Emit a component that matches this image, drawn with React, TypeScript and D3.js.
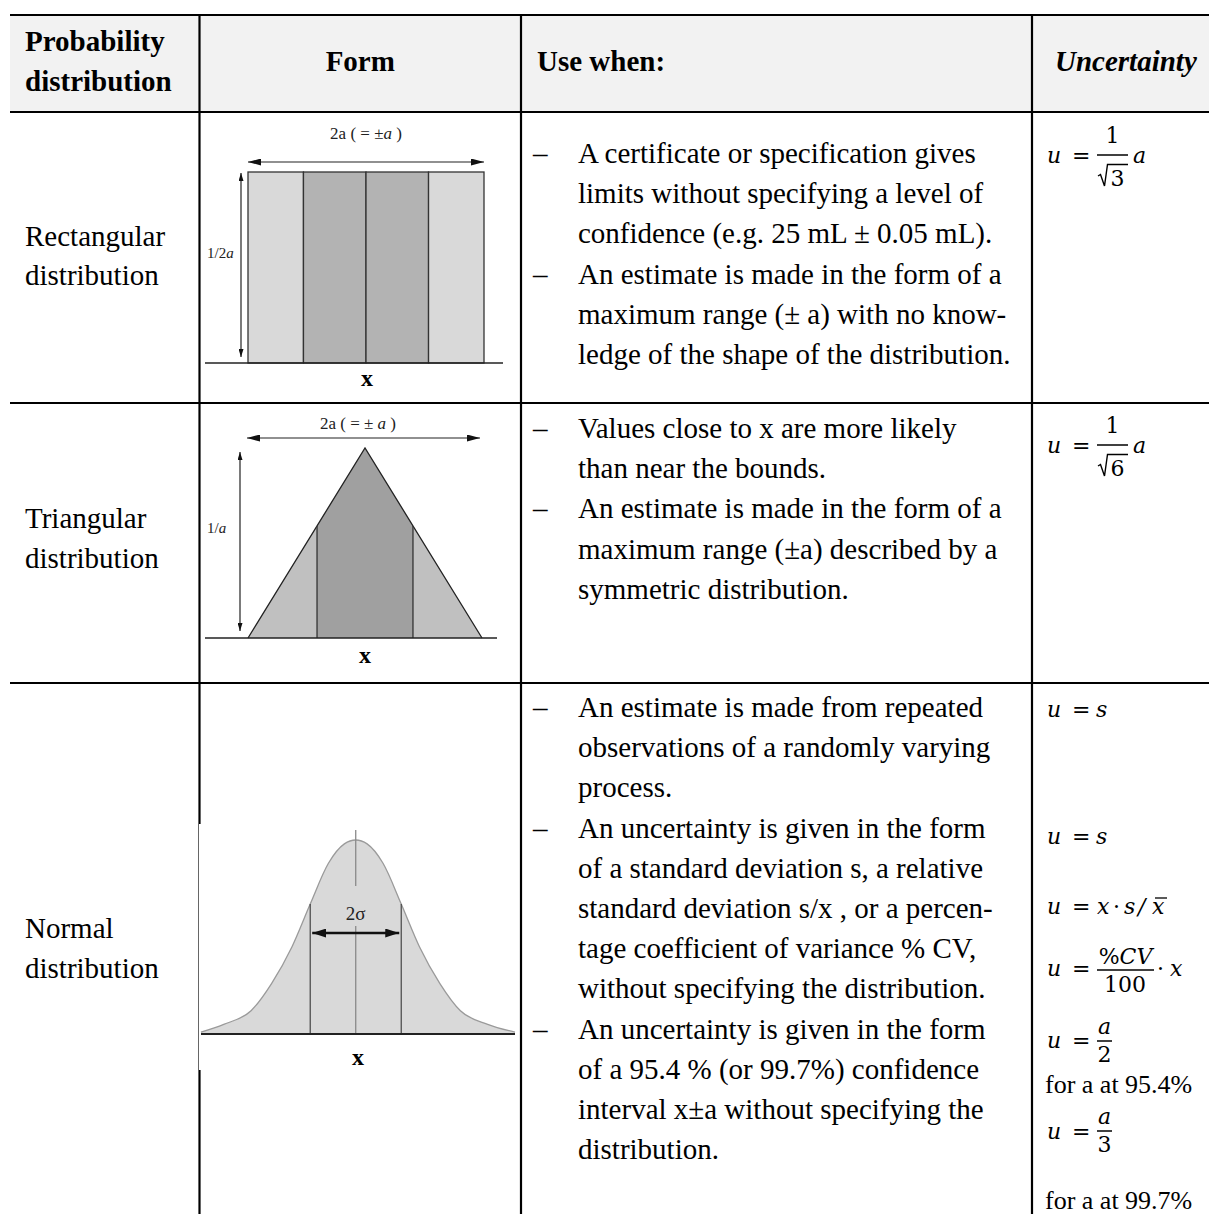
import React from 'react';
import * as d3 from 'd3';

// ---------- data ----------
const HEADER_COL1 = ['Probability', 'distribution'];
const HEADER_FORM = 'Form';
const HEADER_USE = 'Use when:';
const HEADER_UNC = 'Uncertainty';

const DIST_NAMES = [
  ['Rectangular', 'distribution'],
  ['Triangular', 'distribution'],
  ['Normal', 'distribution'],
];

const USE_RECT = [
  ['A certificate or specification gives', 'limits without specifying a level of', 'confidence (e.g. 25 mL ± 0.05 mL).'],
  ['An estimate is made in the form of a', 'maximum range (± a) with no know-', 'ledge of the shape of the distribution.'],
];
const USE_TRI = [
  ['Values close to x are more likely', 'than near the bounds.'],
  ['An estimate is made in the form of a', 'maximum range (±a) described by a', 'symmetric distribution.'],
];
const USE_NORM = [
  ['An estimate is made from repeated', 'observations of a randomly varying', 'process.'],
  ['An uncertainty is given in the form', 'of a standard deviation s, a relative', 'standard deviation s/x , or a percen-', 'tage coefficient of variance % CV,', 'without specifying the distribution.'],
  ['An uncertainty is given in the form', 'of a 95.4 % (or 99.7%) confidence', 'interval x±a without specifying the', 'distribution.'],
];

// rectangular distribution: band edges (units of a) and shades
const RECT_EDGES = [-1, -0.53, 0, 0.53, 1];
const RECT_FILLS = ['#d9d9d9', '#b3b3b3', '#b3b3b3', '#d9d9d9'];
// triangular distribution: band edges (units of a) and shades
const TRI_EDGES = [-1, -0.41, 0.41, 1];
const TRI_FILLS = ['#c0c0c0', '#a0a0a0', '#c0c0c0'];
// normal curve (x in sigma units, y relative height)
const NORM_X = [-3.4, -2.9, -2.3, -1.85, -1.4, -1.0, -0.6, -0.25, 0, 0.25, 0.6, 1.0, 1.4, 1.85, 2.3, 2.9, 3.5];
const NORM_Y = [0.01, 0.05, 0.12, 0.26, 0.45, 0.67, 0.88, 0.98, 1, 0.98, 0.88, 0.67, 0.45, 0.26, 0.12, 0.05, 0.01];
const NORM_SIGMA_LINES = [-1, 1];

const FOR_A = ['for a at 95.4%', 'for a at 99.7%'];

// ---------- layout ----------
const W = 1209;
const H = 1214;
const X0 = 10;
const COLS = [199.5, 521, 1032];
const ROWS = [15, 112, 403, 683];
const SERIF = "'Liberation Serif', 'Times New Roman', serif";
const MATH = "'DejaVu Serif', serif";
const FS = 29;
const LH = 40.2;

function Bullets({ groups, y0 }: { groups: string[][]; y0: number }) {
  const out: any[] = [];
  let k = 0;
  groups.forEach((g, gi) => {
    g.forEach((line, li) => {
      const y = y0 + k * LH;
      if (li === 0) {
        out.push(<text key={`d${gi}`} x={533} y={y} fontSize={FS}>–</text>);
      }
      out.push(<text key={`l${gi}-${li}`} x={578} y={y} fontSize={FS}>{line}</text>);
      k++;
    });
  });
  return <g fontFamily={SERIF}>{out}</g>;
}

function arrowMarker(id: string, len: number, wid: number) {
  return (
    <marker id={id} markerUnits="userSpaceOnUse" markerWidth={len} markerHeight={wid}
      refX={len} refY={wid / 2} orient="auto-start-reverse" viewBox={`0 0 ${len} ${wid}`}>
      <path d={`M0,0 L${len},${wid / 2} L0,${wid} Z`} fill="#111" />
    </marker>
  );
}

function RectDiagram() {
  const x = d3.scaleLinear().domain([-1, 1]).range([248, 484]);
  const y = d3.scaleLinear().domain([0, 1]).range([363, 172]);
  const bands = d3.pairs(RECT_EDGES);
  return (
    <g>
      {bands.map(([a, b], i) => (
        <rect key={i} x={x(a)} y={y(1)} width={x(b) - x(a)} height={y(0) - y(1)}
          fill={RECT_FILLS[i]} stroke="#333" strokeWidth={1.3} />
      ))}
      <line x1={205} x2={503} y1={y(0)} y2={y(0)} stroke="#222" strokeWidth={1.6} />
      <line x1={x(-1)} x2={x(1)} y1={162} y2={162} stroke="#222" strokeWidth={1.2}
        markerStart="url(#ah)" markerEnd="url(#ah)" />
      <line x1={241} x2={241} y1={173} y2={357} stroke="#222" strokeWidth={1.2}
        markerStart="url(#av)" markerEnd="url(#av)" />
      <text x={366} y={139} fontSize={17} textAnchor="middle" fontFamily={SERIF} fill="#222">
        2a ( =  ±<tspan fontStyle="italic">a</tspan> )
      </text>
      <text x={207} y={258} fontSize={15} fontFamily={SERIF} fill="#222">
        1/2<tspan fontStyle="italic">a</tspan>
      </text>
      <text x={367} y={386} fontSize={24} fontWeight="bold" textAnchor="middle" fontFamily={SERIF}>x</text>
    </g>
  );
}

function TriDiagram() {
  const x = d3.scaleLinear().domain([-1, 1]).range([248, 482]);
  const y = d3.scaleLinear().domain([0, 1]).range([638, 448]);
  const h = (v: number) => 1 - Math.abs(v);
  const bands = d3.pairs(TRI_EDGES);
  const poly = (a: number, b: number) => {
    const pts: [number, number][] = [[a, 0], [a, h(a)]];
    if (a < 0 && b > 0) pts.push([0, 1]);
    pts.push([b, h(b)], [b, 0]);
    return pts.map(([px, py]) => `${x(px)},${y(py)}`).join(' ');
  };
  return (
    <g>
      {bands.map(([a, b], i) => (
        <polygon key={i} points={poly(a, b)} fill={TRI_FILLS[i]} stroke="none" />
      ))}
      <polyline points={`${x(-1)},${y(0)} ${x(0)},${y(1)} ${x(1)},${y(0)}`} fill="none" stroke="#222" strokeWidth={1.3} />
      {TRI_EDGES.slice(1, -1).map((e, i) => (
        <line key={i} x1={x(e)} x2={x(e)} y1={y(h(e))} y2={y(0)} stroke="#333" strokeWidth={1.3} />
      ))}
      <line x1={205} x2={497} y1={y(0)} y2={y(0)} stroke="#222" strokeWidth={1.6} />
      <line x1={247} x2={480} y1={438} y2={438} stroke="#222" strokeWidth={1.2}
        markerStart="url(#ah)" markerEnd="url(#ah)" />
      <line x1={240} x2={240} y1={452} y2={631} stroke="#222" strokeWidth={1.2}
        markerStart="url(#av)" markerEnd="url(#av)" />
      <text x={358} y={429} fontSize={17} textAnchor="middle" fontFamily={SERIF} fill="#222">
        2a ( = ± <tspan fontStyle="italic">a</tspan> )
      </text>
      <text x={207} y={533} fontSize={15} fontFamily={SERIF} fill="#222">
        1/<tspan fontStyle="italic">a</tspan>
      </text>
      <text x={365} y={663} fontSize={24} fontWeight="bold" textAnchor="middle" fontFamily={SERIF}>x</text>
    </g>
  );
}

function NormDiagram() {
  const x = d3.scaleLinear().domain([-3.4, 3.5]).range([201, 515]);
  const y = d3.scaleLinear().domain([0, 1]).range([1034, 840]);
  const pts = NORM_X.map((v, i) => [v, NORM_Y[i]] as [number, number]);
  const area = d3.area<[number, number]>().x(d => x(d[0])).y0(y(0)).y1(d => y(d[1])).curve(d3.curveMonotoneX);
  const line = d3.line<[number, number]>().x(d => x(d[0])).y(d => y(d[1])).curve(d3.curveMonotoneX);
  const interp = (v: number) => {
    // height of curve at v, linear between read points
    for (let i = 0; i < NORM_X.length - 1; i++) {
      if (v >= NORM_X[i] && v <= NORM_X[i + 1]) {
        const t = (v - NORM_X[i]) / (NORM_X[i + 1] - NORM_X[i]);
        return NORM_Y[i] + t * (NORM_Y[i + 1] - NORM_Y[i]);
      }
    }
    return 0;
  };
  return (
    <g>
      <rect x={199} y={824} width={318} height={246} fill="#fff" />
      <path d={area(pts) || ''} fill="#d9d9d9" />
      <path d={line(pts) || ''} fill="none" stroke="#9a9a9a" strokeWidth={1.3} />
      <line x1={x(0)} x2={x(0)} y1={830} y2={886} stroke="#8a8a8a" strokeWidth={1.3} />
      <line x1={x(0)} x2={x(0)} y1={926} y2={y(0)} stroke="#8a8a8a" strokeWidth={1.3} />
      {NORM_SIGMA_LINES.map((s, i) => (
        <line key={i} x1={x(s)} x2={x(s)} y1={y(interp(s))} y2={y(0)} stroke="#444" strokeWidth={1.2} />
      ))}
      <line x1={201} x2={515} y1={y(0)} y2={y(0)} stroke="#222" strokeWidth={2} />
      <line x1={x(-1) + 2} x2={x(1) - 2} y1={933} y2={933} stroke="#111" strokeWidth={2.4}
        markerStart="url(#ab)" markerEnd="url(#ab)" />
      <text x={x(0)} y={920} fontSize={19} textAnchor="middle" fontFamily={SERIF} fill="#222">2σ</text>
      <text x={358} y={1065} fontSize={24} fontWeight="bold" textAnchor="middle" fontFamily={SERIF}>x</text>
    </g>
  );
}

function SqrtFrac({ x0, base, digit }: { x0: number; base: number; digit: string }) {
  // fraction 1 / sqrt(digit), bar at base-8
  const bar = base - 8;
  return (
    <g>
      <text x={x0 + 15.5} y={base - 20} fontSize={22} textAnchor="middle">1</text>
      <line x1={x0} x2={x0 + 31} y1={bar} y2={bar} stroke="#000" strokeWidth={1.5} />
      <path d={`M${x0 + 1},${base + 13} L${x0 + 3.5},${base + 11.5} L${x0 + 7.5},${base + 23} L${x0 + 10.5},${base + 1.5} L${x0 + 31},${base + 1.5}`}
        fill="none" stroke="#000" strokeWidth={1.4} />
      <text x={x0 + 20.5} y={base + 23} fontSize={22} textAnchor="middle">{digit}</text>
    </g>
  );
}

function Formulas() {
  const it = { fontStyle: 'italic' as const };
  return (
    <g fontFamily={MATH} fontSize={22} fill="#000">
      {/* rectangular */}
      <text x={1047} y={163} {...it}>u</text>
      <text x={1072} y={163}>=</text>
      <SqrtFrac x0={1097} base={163} digit="3" />
      <text x={1133} y={163} {...it}>a</text>
      {/* triangular */}
      <text x={1047} y={453} {...it}>u</text>
      <text x={1072} y={453}>=</text>
      <SqrtFrac x0={1097} base={453} digit="6" />
      <text x={1133} y={453} {...it}>a</text>
      {/* normal */}
      <text x={1047} y={717} {...it}>u</text>
      <text x={1072} y={717}>=</text>
      <text x={1096} y={717} {...it}>s</text>

      <text x={1047} y={844} {...it}>u</text>
      <text x={1072} y={844}>=</text>
      <text x={1096} y={844} {...it}>s</text>

      <text x={1047} y={914} {...it}>u</text>
      <text x={1072} y={914}>=</text>
      <text x={1097} y={914} {...it}>x</text>
      <text x={1113} y={914}>·</text>
      <text x={1124} y={914} {...it}>s</text>
      <text x={1138} y={914} {...it}>/</text>
      <text x={1152} y={914} {...it}>x</text>
      <line x1={1155} x2={1167} y1={898} y2={898} stroke="#000" strokeWidth={1.3} />

      <text x={1047} y={976} {...it}>u</text>
      <text x={1072} y={976}>=</text>
      <text x={1125.5} y={964} textAnchor="middle">%<tspan {...it}>CV</tspan></text>
      <line x1={1097} x2={1154} y1={970} y2={970} stroke="#000" strokeWidth={1.5} />
      <text x={1125} y={992} textAnchor="middle">100</text>
      <text x={1157} y={976}>·</text>
      <text x={1170} y={976} {...it}>x</text>

      <text x={1047} y={1048} {...it}>u</text>
      <text x={1072} y={1048}>=</text>
      <text x={1104.5} y={1034} textAnchor="middle" {...it}>a</text>
      <line x1={1097} x2={1112} y1={1041} y2={1041} stroke="#000" strokeWidth={1.5} />
      <text x={1104.5} y={1062} textAnchor="middle">2</text>

      <text x={1047} y={1139} {...it}>u</text>
      <text x={1072} y={1139}>=</text>
      <text x={1104.5} y={1124} textAnchor="middle" {...it}>a</text>
      <line x1={1097} x2={1112} y1={1131} y2={1131} stroke="#000" strokeWidth={1.5} />
      <text x={1104.5} y={1152} textAnchor="middle">3</text>

      <text x={1045} y={1093} fontFamily={SERIF} fontSize={26}>{FOR_A[0]}</text>
      <text x={1045} y={1209} fontFamily={SERIF} fontSize={26}>{FOR_A[1]}</text>
    </g>
  );
}

export default function App() {
  const nameBaselines = [[246, 285], [528, 568], [938, 978]];
  return (
    <svg width={W} height={H} viewBox={`0 0 ${W} ${H}`}
      style={{ position: 'absolute', left: 0, top: 0, background: '#fff' }}>
      <defs>
        {arrowMarker('ah', 13, 7)}
        {arrowMarker('av', 8, 5)}
        {arrowMarker('ab', 14, 9)}
      </defs>
      <rect x={0} y={0} width={W} height={H} fill="#fff" />
      {/* header background */}
      <rect x={X0} y={ROWS[0]} width={W - X0} height={ROWS[1] - ROWS[0]} fill="#f2f2f2" />
      {/* grid */}
      {ROWS.map((r, i) => (
        <line key={`r${i}`} x1={X0} x2={W} y1={r} y2={r} stroke="#000" strokeWidth={2.2} />
      ))}
      {COLS.map((c, i) => (
        <line key={`c${i}`} x1={c} x2={c} y1={ROWS[0]} y2={H} stroke="#000" strokeWidth={2.2} />
      ))}
      {/* header text */}
      <g fontFamily={SERIF} fontSize={FS} fontWeight="bold">
        <text x={25} y={51}>{HEADER_COL1[0]}</text>
        <text x={25} y={91}>{HEADER_COL1[1]}</text>
        <text x={(COLS[0] + COLS[1]) / 2} y={71} textAnchor="middle">{HEADER_FORM}</text>
        <text x={537} y={71}>{HEADER_USE}</text>
        <text x={1055} y={71} fontStyle="italic">{HEADER_UNC}</text>
      </g>
      {/* first column */}
      <g fontFamily={SERIF} fontSize={FS}>
        {DIST_NAMES.map((n, i) => (
          <g key={i}>
            <text x={25} y={nameBaselines[i][0]}>{n[0]}</text>
            <text x={25} y={nameBaselines[i][1]}>{n[1]}</text>
          </g>
        ))}
      </g>
      <RectDiagram />
      <TriDiagram />
      <NormDiagram />
      <Bullets groups={USE_RECT} y0={163} />
      <Bullets groups={USE_TRI} y0={438} />
      <Bullets groups={USE_NORM} y0={717} />
      <Formulas />
    </svg>
  );
}
